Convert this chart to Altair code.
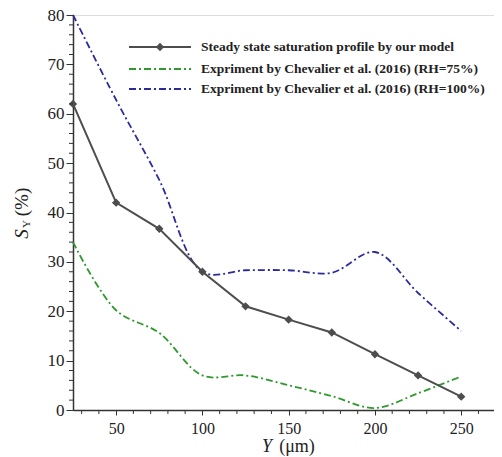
import altair as alt
import pandas as pd

# ---- data ----
y_pos = [25, 50, 75, 100, 125, 150, 175, 200, 225, 250]
model_s = [62.0, 42.0, 36.7, 28.0, 21.0, 18.3, 15.7, 11.3, 7.0, 2.7]
rh75_s = [34.0, 20.2, 15.6, 7.0, 7.0, 5.0, 2.8, 0.4, 3.4, 6.8]
rh100_s = [80.0, 62.8, 46.6, 28.0, 28.3, 28.3, 27.8, 32.0, 23.7, 16.0]

series_names = [
    "Steady state saturation profile by our model",
    "Expriment by Chevalier et al. (2016) (RH=75%)",
    "Expriment by Chevalier et al. (2016) (RH=100%)",
]
series_colors = ["#4d4d4d", "#2e9a2e", "#2b2b9e"]
series_dash = [[1, 0], [7, 3, 2, 3], [7, 3, 2, 3]]

y_major = [0, 10, 20, 30, 40, 50, 60, 70, 80]
y_minor = [v for v in range(2, 80, 2) if v % 10 != 0]
x_major = [50, 100, 150, 200, 250]
x_minor = [v for v in range(30, 261, 10) if v % 50 != 0]

SERIF = "Liberation Serif"

df_model = pd.DataFrame({"Y": y_pos, "S": model_s})
df_75 = pd.DataFrame({"Y": y_pos, "S": rh75_s})
df_100 = pd.DataFrame({"Y": y_pos, "S": rh100_s})
df_one = pd.DataFrame({"k": [0]})
df_xminor = pd.DataFrame({"Y": x_minor})
df_yminor = pd.DataFrame({"S": y_minor})

xscale = alt.Scale(domain=[25, 269], nice=False, zero=False)
yscale = alt.Scale(domain=[0, 80], nice=False)

xaxis = alt.Axis(
    values=x_major, labelOverlap=False,
    labelFont=SERIF, labelFontSize=16, labelColor="#222", labelPadding=5,
    tickSize=5, tickColor="#333", domainColor="#333", domainWidth=1.5,
    grid=False, title=None,
)
yaxis = alt.Axis(
    values=y_major, labelOverlap=False,
    labelFont=SERIF, labelFontSize=17, labelColor="#222", labelPadding=2,
    tickSize=7, tickColor="#333", domainColor="#333", domainWidth=1.5,
    grid=False, title=None,
)

enc_x = alt.X("Y:Q", scale=xscale, axis=xaxis)
enc_y = alt.Y("S:Q", scale=yscale, axis=yaxis)

model_line = alt.Chart(df_model).mark_line(
    color=series_colors[0], strokeWidth=2
).encode(x=enc_x, y=enc_y)
model_pts = alt.Chart(df_model).mark_point(
    shape="diamond", filled=True, color=series_colors[0], size=70, opacity=1
).encode(x="Y:Q", y="S:Q")

line75 = alt.Chart(df_75).mark_line(
    color=series_colors[1], strokeWidth=1.8, strokeDash=series_dash[1],
    interpolate="catmull-rom"
).encode(x="Y:Q", y="S:Q")
line100 = alt.Chart(df_100).mark_line(
    color=series_colors[2], strokeWidth=1.8, strokeDash=series_dash[2],
    interpolate="catmull-rom"
).encode(x="Y:Q", y="S:Q")

# minor ticks (outside the axes)
xminor = alt.Chart(df_xminor).mark_rule(color="#333", strokeWidth=1).encode(
    x="Y:Q", y=alt.value(395), y2=alt.value(399)
)
yminor = alt.Chart(df_yminor).mark_rule(color="#333", strokeWidth=1).encode(
    y="S:Q", x=alt.value(0), x2=alt.value(-4)
)

# ---- manual legend (inside plot, top) ----
legend_rows_y = [32, 54, 74]
legend_layers = []
for i, name in enumerate(series_names):
    ly = legend_rows_y[i]
    legend_layers.append(
        alt.Chart(df_one).mark_rule(
            color=series_colors[i], strokeWidth=2 if i == 0 else 1.8,
            strokeDash=series_dash[i]
        ).encode(x=alt.value(56), x2=alt.value(118), y=alt.value(ly))
    )
    legend_layers.append(
        alt.Chart(df_one).mark_text(
            align="left", baseline="middle", font=SERIF, fontSize=13.5,
            fontWeight="bold", color="#222"
        ).encode(x=alt.value(128), y=alt.value(ly), text=alt.value(name))
    )
legend_layers.append(
    alt.Chart(df_one).mark_point(
        shape="diamond", filled=True, color=series_colors[0], size=70, opacity=1
    ).encode(x=alt.value(87), y=alt.value(legend_rows_y[0]))
)

# ---- axis titles as text ----
def txt(s, x, y, size, italic=False, angle=0, baseline="middle"):
    kw = dict(font=SERIF, fontSize=size, align="center", baseline=baseline,
              color="#222")
    if italic:
        kw["fontStyle"] = "italic"
    if angle:
        kw["angle"] = angle
    return alt.Chart(df_one).mark_text(**kw).encode(
        x=alt.value(x), y=alt.value(y), text=alt.value(s)
    )

titles = [
    txt("S", -51, 219, 19, italic=True, angle=270),
    txt("Y", -46, 209, 11, angle=270),
    txt("(%)", -51, 187, 19, angle=270),
    txt("Y", 194, 437, 18, italic=True, baseline="alphabetic"),
    txt("(μm)", 224, 437, 18, baseline="alphabetic"),
]

chart = alt.layer(
    line75, line100, model_line, model_pts, xminor, yminor,
    *legend_layers, *titles
).properties(
    width=421, height=395,
    autosize=alt.AutoSizeParams(type="none"),
    padding={"left": 65, "top": 7, "right": 0, "bottom": 46},
).configure_view(
    stroke="#333", strokeWidth=1.5
).configure(background="white")

chart.save("out.html", embed_options={"renderer": "svg", "actions": False})
